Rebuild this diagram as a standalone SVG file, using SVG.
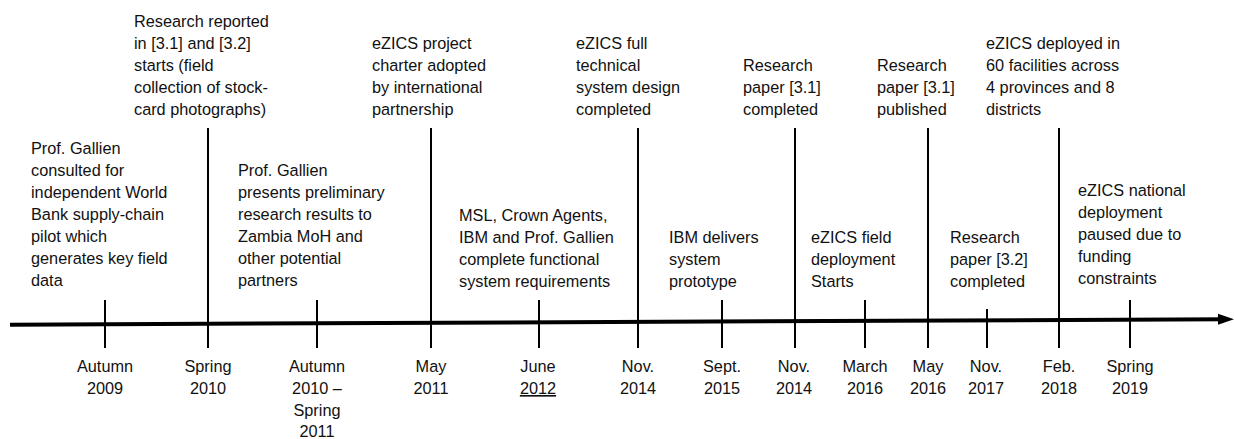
<svg xmlns="http://www.w3.org/2000/svg" width="1234" height="439" viewBox="0 0 1234 439">
<style>
text{font-family:"Liberation Sans",Arial,sans-serif;font-size:16.3px;fill:#111}
.d{text-anchor:middle}
.ln{stroke:#000;stroke-width:2;fill:none}
.ax{stroke:#000;stroke-width:4;fill:none}
</style>
<defs>
<marker id="ah" markerWidth="4" markerHeight="4" refX="2" refY="1.4" orient="auto" markerUnits="strokeWidth" viewBox="0 0 4 2.8">
<path d="M0,0 L4,1.4 L0,2.8 z" fill="#000"/>
</marker>
</defs>
<rect width="1234" height="439" fill="#fff"/>
<g id="connectors">
<line class="ax" x1="10" y1="324.7" x2="1226" y2="319.2" marker-end="url(#ah)"/>
<line class="ln" x1="105" y1="300" x2="105" y2="348"/>
<line class="ln" x1="208" y1="128" x2="208" y2="348"/>
<line class="ln" x1="317" y1="300" x2="317" y2="348"/>
<line class="ln" x1="431" y1="128" x2="431" y2="348"/>
<line class="ln" x1="539" y1="300" x2="539" y2="348"/>
<line class="ln" x1="638" y1="128" x2="638" y2="348"/>
<line class="ln" x1="722" y1="300" x2="722" y2="348"/>
<line class="ln" x1="795" y1="128" x2="795" y2="348"/>
<line class="ln" x1="865" y1="300" x2="865" y2="348"/>
<line class="ln" x1="928" y1="128" x2="928" y2="348"/>
<line class="ln" x1="987" y1="309" x2="987" y2="348"/>
<line class="ln" x1="1059" y1="128" x2="1059" y2="348"/>
<line class="ln" x1="1130" y1="300" x2="1130" y2="348"/>
</g>
<g id="e1">
<text x="31" y="154">Prof. Gallien</text>
<text x="31" y="176">consulted for</text>
<text x="31" y="198">independent World</text>
<text x="31" y="220">Bank supply-chain</text>
<text x="31" y="242">pilot which</text>
<text x="31" y="264">generates key field</text>
<text x="31" y="286">data</text>
<text class="d" x="105" y="372">Autumn</text>
<text class="d" x="105" y="394">2009</text>
</g>
<g id="e2">
<text x="134" y="27">Research reported</text>
<text x="134" y="49">in [3.1] and [3.2]</text>
<text x="134" y="71">starts (field</text>
<text x="134" y="93">collection of stock-</text>
<text x="134" y="115">card photographs)</text>
<text class="d" x="208" y="372">Spring</text>
<text class="d" x="208" y="394">2010</text>
</g>
<g id="e3">
<text x="238" y="176">Prof. Gallien</text>
<text x="238" y="198">presents preliminary</text>
<text x="238" y="220">research results to</text>
<text x="238" y="242">Zambia MoH and</text>
<text x="238" y="264">other potential</text>
<text x="238" y="286">partners</text>
<text class="d" x="317" y="372">Autumn</text>
<text class="d" x="317" y="394">2010 –</text>
<text class="d" x="317" y="416">Spring</text>
<text class="d" x="317" y="437">2011</text>
</g>
<g id="e4">
<text x="372" y="49">eZICS project</text>
<text x="372" y="71">charter adopted</text>
<text x="372" y="93">by international</text>
<text x="372" y="115">partnership</text>
<text class="d" x="431" y="372">May</text>
<text class="d" x="431" y="394">2011</text>
</g>
<g id="e5">
<text x="459" y="221">MSL, Crown Agents,</text>
<text x="459" y="243">IBM and Prof. Gallien</text>
<text x="459" y="265">complete functional</text>
<text x="459" y="287">system requirements</text>
<text class="d" x="538" y="372">June</text>
<text class="d" x="538" y="394" text-decoration="underline">2012</text>
</g>
<g id="e6">
<text x="576" y="49">eZICS full</text>
<text x="576" y="71">technical</text>
<text x="576" y="93">system design</text>
<text x="576" y="115">completed</text>
<text class="d" x="638" y="372">Nov.</text>
<text class="d" x="638" y="394">2014</text>
</g>
<g id="e7">
<text x="669" y="243">IBM delivers</text>
<text x="669" y="265">system</text>
<text x="669" y="287">prototype</text>
<text class="d" x="722" y="372">Sept.</text>
<text class="d" x="722" y="394">2015</text>
</g>
<g id="e8">
<text x="743" y="71">Research</text>
<text x="743" y="93">paper [3.1]</text>
<text x="743" y="115">completed</text>
<text class="d" x="794" y="372">Nov.</text>
<text class="d" x="794" y="394">2014</text>
</g>
<g id="e9">
<text x="811" y="243">eZICS field</text>
<text x="811" y="265">deployment</text>
<text x="811" y="287">Starts</text>
<text class="d" x="865" y="372">March</text>
<text class="d" x="865" y="394">2016</text>
</g>
<g id="e10">
<text x="877" y="71">Research</text>
<text x="877" y="93">paper [3.1]</text>
<text x="877" y="115">published</text>
<text class="d" x="928" y="372">May</text>
<text class="d" x="928" y="394">2016</text>
</g>
<g id="e11">
<text x="950" y="243">Research</text>
<text x="950" y="265">paper [3.2]</text>
<text x="950" y="287">completed</text>
<text class="d" x="986" y="372">Nov.</text>
<text class="d" x="986" y="394">2017</text>
</g>
<g id="e12">
<text x="986" y="49">eZICS deployed in</text>
<text x="986" y="71">60 facilities across</text>
<text x="986" y="93">4 provinces and 8</text>
<text x="986" y="115">districts</text>
<text class="d" x="1059" y="372">Feb.</text>
<text class="d" x="1059" y="394">2018</text>
</g>
<g id="e13">
<text x="1078" y="196">eZICS national</text>
<text x="1078" y="218">deployment</text>
<text x="1078" y="240">paused due to</text>
<text x="1078" y="262">funding</text>
<text x="1078" y="284">constraints</text>
<text class="d" x="1130" y="372">Spring</text>
<text class="d" x="1130" y="394">2019</text>
</g>
</svg>
